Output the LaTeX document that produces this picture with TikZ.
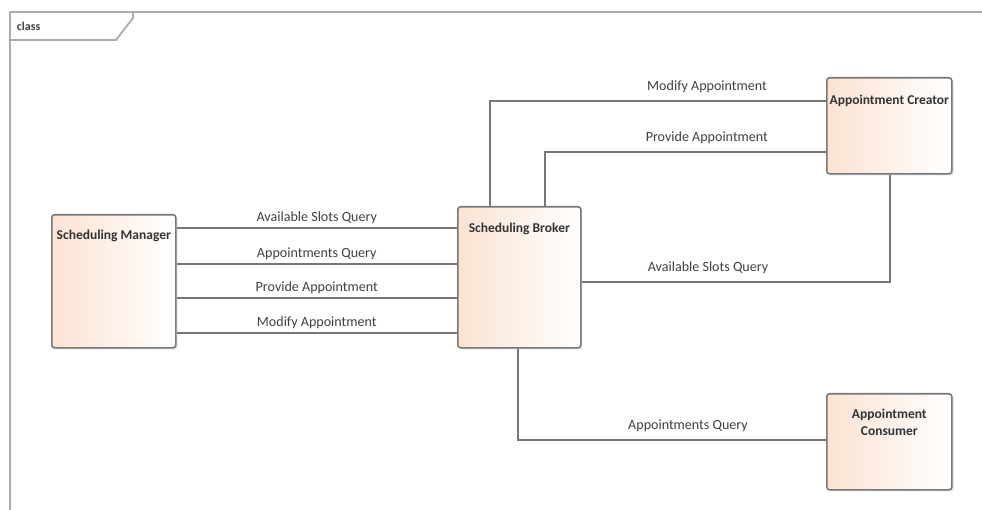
\documentclass[tikz,border=0pt]{standalone}
\usepackage{fontspec}
\setmainfont{Carlito}
\usepackage{tikz}
\usetikzlibrary{shadows}
\definecolor{clsPeach}{HTML}{FBE3D3}
\definecolor{clsEdge}{HTML}{777777}
\definecolor{frmGray}{HTML}{ABABAB}

\begin{document}
\begin{tikzpicture}[x=0.025cm, y=-0.025cm, font=\fontsize{10}{12}\selectfont,
  cls/.style={draw=clsEdge, line width=1.1pt, rounded corners=2pt, left color=clsPeach, right color=white,
    drop shadow={shadow xshift=1.2pt, shadow yshift=-1.2pt, opacity=0.25}, anchor=north west, minimum width=3.1cm},
  ttl/.style={font=\fontsize{9.6}{12}\selectfont\bfseries, text=black!80, align=center, anchor=center},
  ln/.style={draw=clsEdge, line width=1.1pt}, lbl/.style={text=black!75, inner sep=2pt}]
\useasboundingbox (0,0) rectangle (982,510);
% frame
\draw[frmGray, line width=1.3pt] (10,510) -- (10,12) -- (982,12);
\draw[frmGray, line width=1.3pt] (10,40) -- (116,40) -- (133,18) -- (133,12);
\node[anchor=west, font=\fontsize{8.5}{10}\selectfont\bfseries, text=black!75] (frmname) at (12,26) {class};
% classes
\node[cls, minimum height=3.325cm, label={[ttl,yshift=-0.55cm]north:Scheduling Manager}] (mgr) at (51,214) {};
\node[cls, minimum width=3.075cm, minimum height=3.525cm, label={[ttl,yshift=-0.57cm]north:Scheduling Broker}] (brk) at (457,206) {};
\node[cls, minimum width=3.125cm, minimum height=2.4cm, label={[ttl,yshift=-0.6cm]north:Appointment Creator}] (crt) at (826,77) {};
\node[cls, minimum width=3.125cm, minimum height=2.4cm, label={[ttl,yshift=-0.74cm]north:Appointment\\Consumer}] (cns) at (826,393) {};
% links
\foreach \yy/\txt in {228/Available Slots Query, 264/Appointments Query, 298/Provide Appointment, 333/Modify Appointment}
  \draw[ln] (mgr.east |- 0,\yy) -- node[lbl,above=0.5pt]{\txt} (brk.west |- 0,\yy);
\draw[ln] (brk.north -| 490,0) |- node[lbl,above=3pt,pos=0.823]{Modify Appointment} (crt.west |- 0,101);
\draw[ln] (brk.north -| 545,0) |- node[lbl,above=3pt,pos=0.788]{Provide Appointment} (crt.west |- 0,152);
\draw[ln] (brk.east |- 0,282) -| node[lbl,above=3pt,pos=0.205]{Available Slots Query} (crt.south -| 890,0);
\draw[ln] (brk.south -| 518,0) |- node[lbl,above=3pt,pos=0.776]{Appointments Query} (cns.west |- 0,440);
\end{tikzpicture}
\end{document}
